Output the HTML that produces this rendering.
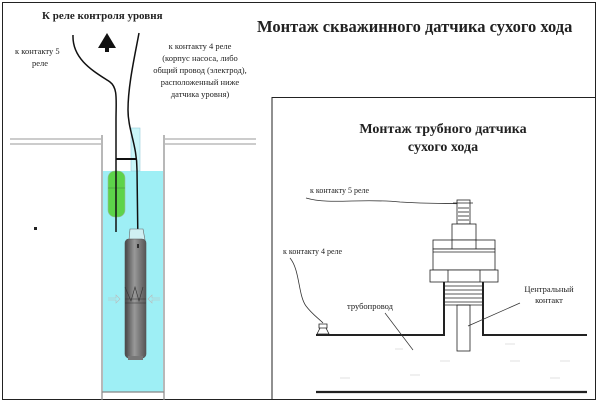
<!DOCTYPE html>
<html><head><meta charset="utf-8"><style>
body{margin:0;background:#fff}
svg{display:block}
text{font-family:"Liberation Serif",serif;fill:#222}
</style></head><body>
<svg width="600" height="402" viewBox="0 0 600 402" xmlns="http://www.w3.org/2000/svg">
<defs>
<linearGradient id="pg" x1="0" x2="1"><stop offset="0" stop-color="#444"/><stop offset="0.45" stop-color="#999"/><stop offset="1" stop-color="#555"/></linearGradient>
</defs>
<rect x="2.5" y="2.5" width="593" height="397" fill="#fff" stroke="#222"/>
<text x="42" y="19" font-size="11" font-weight="bold">К реле контроля уровня</text>
<polygon points="107,33 98,48 116,48" fill="#111"/><rect x="105" y="47" width="4" height="5" fill="#111"/>
<text font-size="8.5"><tspan x="15" y="54">к контакту 5</tspan><tspan x="32" y="66">реле</tspan></text>
<text font-size="8.5" text-anchor="middle"><tspan x="200" y="49">к контакту 4 реле</tspan><tspan x="200" y="61">(корпус насоса, либо</tspan><tspan x="200" y="73">общий провод (электрод),</tspan><tspan x="200" y="85">расположенный ниже</tspan><tspan x="200" y="97">датчика уровня)</tspan></text>
<g stroke="#999" stroke-width="1"><line x1="10" y1="139" x2="101" y2="139"/><line x1="10" y1="144" x2="101" y2="144"/><line x1="165" y1="139" x2="256" y2="139"/><line x1="165" y1="144" x2="256" y2="144"/></g>
<rect x="103" y="171" width="60" height="221" fill="#9eeff5"/>
<g stroke="#888" stroke-width="1.2"><line x1="102" y1="135" x2="102" y2="400"/><line x1="164" y1="135" x2="164" y2="400"/><line x1="102" y1="392" x2="164" y2="392"/></g>
<rect x="131" y="128" width="9" height="43" fill="#c8f6f8" stroke="#9cd" stroke-width="0.6"/>
<rect x="108" y="171" width="17" height="46" rx="7" fill="#5dd34a" stroke="#9b9" stroke-width="0.6"/>
<line x1="108" y1="188" x2="125" y2="188" stroke="#484" stroke-width="0.5"/>
<line x1="116" y1="159" x2="136" y2="159" stroke="#111" stroke-width="2"/>
<path d="M73,35 C72,60 95,72 110,82 C118,88 116,100 116,120 L116,232" fill="none" stroke="#111" stroke-width="1.5"/>
<path d="M139,33 C135,55 128,85 128,110 C128,130 137,145 137,170 L138,248" fill="none" stroke="#111" stroke-width="1.5"/>
<path d="M129,240 L130,229 L143,229 L145,240 Z" fill="#cfeff2" stroke="#666" stroke-width="0.6"/>
<rect x="125" y="239" width="21" height="119" rx="4" fill="url(#pg)" stroke="#555" stroke-width="0.6"/>
<rect x="128" y="356" width="15" height="4" fill="#777"/>
<path d="M125,287 L131,301 L135,287 L139,301 L143,287 M125,303 L146,303 M125,299 L146,299" stroke="#333" stroke-width="0.6" fill="none"/>
<line x1="138" y1="244" x2="138" y2="248" stroke="#111" stroke-width="1.5"/>
<rect x="34" y="227" width="3" height="3" fill="#222"/>
<g stroke="#bbb" stroke-width="0.6" fill="none"><path d="M108,298 L116,298 L116,295 L120,299 L116,303 L116,300 L108,300"/><path d="M160,298 L152,298 L152,295 L148,299 L152,303 L152,300 L160,300"/></g>
<text x="257" y="32" font-size="16.5" font-weight="bold" fill="#111">Монтаж скважинного датчика сухого хода</text>
<rect x="272" y="97.5" width="323.5" height="302" fill="#fff" stroke="#222"/>
<text text-anchor="middle" font-size="14" font-weight="bold" fill="#111"><tspan x="443" y="133">Монтаж трубного датчика</tspan><tspan x="443" y="151">сухого хода</tspan></text>
<text x="310" y="193" font-size="8">к контакту 5 реле</text>
<path d="M306,198 C330,205 360,198 400,202 C430,204 450,203 470,204" fill="none" stroke="#333" stroke-width="0.8"/>
<g fill="#fff" stroke="#222" stroke-width="0.8">
<rect x="457" y="200" width="13" height="24"/>
<rect x="452" y="224" width="24" height="16"/>
<rect x="433" y="240" width="62" height="9"/>
<line x1="452" y1="240" x2="452" y2="249"/><line x1="476" y1="240" x2="476" y2="249"/>
<rect x="433" y="249" width="62" height="21"/>
<line x1="433" y1="252" x2="495" y2="252"/>
<rect x="430" y="270" width="68" height="12"/>
<line x1="448" y1="270" x2="448" y2="282"/><line x1="480" y1="270" x2="480" y2="282"/>
<rect x="457" y="305" width="13" height="46"/>
</g>
<g stroke="#222" stroke-width="0.8"><line x1="444" y1="286" x2="483" y2="286"/><line x1="444" y1="290" x2="483" y2="290"/><line x1="444" y1="294" x2="483" y2="294"/><line x1="444" y1="298" x2="483" y2="298"/><line x1="444" y1="302" x2="483" y2="302"/><line x1="444" y1="305" x2="483" y2="305"/><line x1="453" y1="203" x2="473" y2="203"/><line x1="458" y1="208" x2="469" y2="208"/><line x1="458" y1="212" x2="469" y2="212"/><line x1="458" y1="216" x2="469" y2="216"/><line x1="458" y1="220" x2="469" y2="220"/></g>
<path d="M316,335 L444,335 L444,282 M483,282 L483,335 L587,335" fill="none" stroke="#222" stroke-width="2"/>
<line x1="316" y1="392" x2="587" y2="392" stroke="#222" stroke-width="2.2"/>
<text x="283" y="254" font-size="8">к контакту 4 реле</text>
<path d="M290,258 C300,270 298,295 306,306 C312,314 318,318 323,323" fill="none" stroke="#333" stroke-width="0.8"/>
<path d="M317,334 L320,328 L326,328 L329,334 Z M319,324 h8 v4 h-8 Z" fill="#fff" stroke="#222" stroke-width="0.8"/>
<text x="347" y="309" font-size="8.5">трубопровод</text>
<line x1="385" y1="313" x2="413" y2="350" stroke="#333" stroke-width="0.7"/>
<text font-size="8.5" text-anchor="middle"><tspan x="549" y="292">Центральный</tspan><tspan x="549" y="303">контакт</tspan></text>
<line x1="520" y1="303" x2="468" y2="326" stroke="#333" stroke-width="0.7"/>
<g stroke="#ccc" stroke-width="0.6"><line x1="395" y1="349" x2="403" y2="349"/><line x1="505" y1="344" x2="515" y2="344"/><line x1="440" y1="361" x2="450" y2="361"/><line x1="510" y1="361" x2="520" y2="361"/><line x1="560" y1="361" x2="570" y2="361"/><line x1="340" y1="378" x2="350" y2="378"/><line x1="410" y1="375" x2="420" y2="375"/><line x1="550" y1="378" x2="560" y2="378"/></g>
</svg>
</body></html>
